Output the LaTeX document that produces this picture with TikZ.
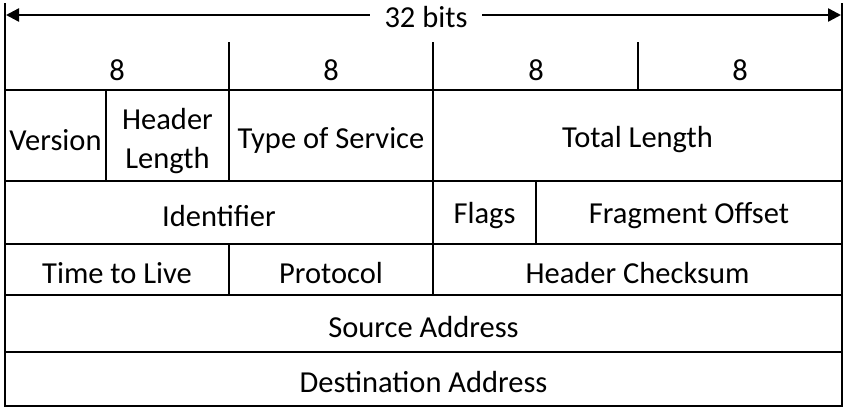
\documentclass[tikz,border=0pt]{standalone}
\usepackage{fontspec}
\setmainfont{Carlito}
\usetikzlibrary{arrows.meta}
\begin{document}
\begin{tikzpicture}[x=1pt,y=-1pt,
  rule/.style={line width=2.2pt,line cap=rect},
  lbl/.style={font=\fontsize{30.5}{39}\selectfont,inner sep=0pt,align=center}]
\useasboundingbox (0,0) rectangle (850,413);
% width arrow
\coordinate (wl) at (6,15);
\coordinate (wr) at (841,15);
\draw[line width=2.4pt,{Triangle[length=13pt,width=13pt]}-{Triangle[length=13pt,width=13pt]}] (wl) -- (wr);
\node[lbl,fill=white,inner xsep=15pt,inner ysep=2pt] (bits) at (426,17) {32 bits};
% outer frame
\draw[rule] (5,4) -- (5,406) -- (842,406) -- (842,4);
% horizontal rules
\foreach \y in {90,181,244,295,352} \draw[rule] (5,\y) -- (842,\y);
% byte ticks
\foreach \x in {229,433,638} \draw[rule] (\x,43) -- (\x,90);
% field separators
\draw[rule] (106,90) -- (106,181);
\draw[rule] (229,90) -- (229,181);
\draw[rule] (433,90) -- (433,295);
\draw[rule] (536,181) -- (536,244);
\draw[rule] (229,244) -- (229,295);
% byte widths
\node[lbl] (b1) at (117,70) {8};
\node[lbl] (b2) at (331,70) {8};
\node[lbl] (b3) at (536,70) {8};
\node[lbl] (b4) at (740,70) {8};
% fields
\node[lbl] (ver) at (55.5,140) {Version};
\node[lbl] (hl) at (167.5,141) {Header\\Length};
\node[lbl] (tos) at (331,140) {Type of Service};
\node[lbl] (tl) at (637.5,140) {Total Length};
\node[lbl] (id) at (219,216) {Identifier};
\node[lbl] (fl) at (484.5,216) {Flags};
\node[lbl] (fo) at (689,216) {Fragment Offset};
\node[lbl] (ttl) at (117,273) {Time to Live};
\node[lbl] (pr) at (331,273) {Protocol};
\node[lbl] (hc) at (637.5,273) {Header Checksum};
\node[lbl] (src) at (423.5,327) {Source Address};
\node[lbl] (dst) at (423.5,382) {Destination Address};
\end{tikzpicture}
\end{document}
